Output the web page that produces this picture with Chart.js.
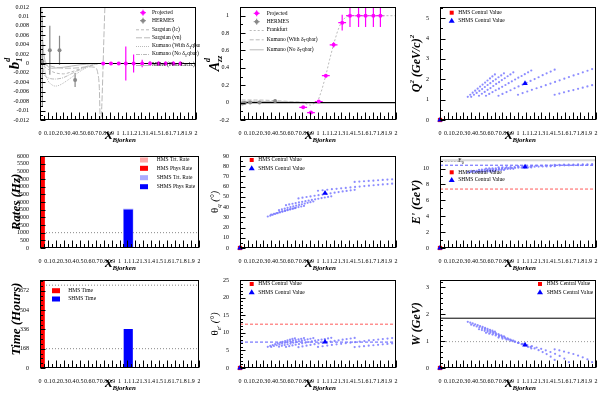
<!DOCTYPE html>
<html>
<head>
<meta charset="utf-8">
<title>Deuteron tensor kinematics</title>
<script src="https://cdn.jsdelivr.net/npm/chart.js@4.4.1/dist/chart.umd.min.js"></script>
<style>
  html, body { margin: 0; padding: 0; background: #fff; }
  #page { position: relative; width: 600px; height: 400px; overflow: hidden; background: #fff; }
  canvas { position: absolute; }
</style>
</head>
<body>
<div id="page">
  <canvas id="pB1" width="200" height="146" style="left:0px;top:0px"></canvas>
  <canvas id="pAzz" width="200" height="146" style="left:200px;top:0px"></canvas>
  <canvas id="pQ2" width="200" height="146" style="left:400px;top:0px"></canvas>
  <canvas id="pRate" width="200" height="126" style="left:0px;top:146px"></canvas>
  <canvas id="pThq" width="200" height="126" style="left:200px;top:146px"></canvas>
  <canvas id="pEp" width="200" height="126" style="left:400px;top:146px"></canvas>
  <canvas id="pTime" width="200" height="128" style="left:0px;top:272px"></canvas>
  <canvas id="pThe" width="200" height="128" style="left:200px;top:272px"></canvas>
  <canvas id="pW" width="200" height="128" style="left:400px;top:272px"></canvas>
</div>
<script>
// ---------- shared x axis ----------
const xTickVals = [0, 0.1, 0.2, 0.3, 0.4, 0.5, 0.6, 0.7, 0.8, 0.9, 1, 1.1, 1.2, 1.3, 1.4, 1.5, 1.6, 1.7, 1.8, 1.9, 2];
const xTickLabels = ['0', '0.1', '0.2', '0.3', '0.4', '0.5', '0.6', '0.7', '0.8', '0.9', '1', '1.1', '1.2', '1.3', '1.4', '1.5', '1.6', '1.7', '1.8', '1.9', '2'];
const xMinorVals = [0.05, 0.15, 0.25, 0.35, 0.45, 0.55, 0.65, 0.75, 0.85, 0.95, 1.05, 1.15, 1.25, 1.35, 1.45, 1.55, 1.65, 1.75, 1.85, 1.95];

// ---------- b1 panel ----------
const b1TickVals = [-0.012, -0.01, -0.008, -0.006, -0.004, -0.002, 0, 0.002, 0.004, 0.006, 0.008, 0.01, 0.012];
const b1TickLabels = ['-0.012', '-0.01', '-0.008', '-0.006', '-0.004', '-0.002', '0', '0.002', '0.004', '0.006', '0.008', '0.01', '0.012'];
const b1Minor = [-0.011, -0.009, -0.007, -0.005, -0.003, -0.001, 0.001, 0.003, 0.005, 0.007, 0.009, 0.011];
const projX = [0.81, 0.91, 1.01, 1.10, 1.20, 1.31, 1.41, 1.52, 1.61, 1.71, 1.80];
const projXErr = [0.05, 0.05, 0.05, 0.05, 0.05, 0.05, 0.05, 0.05, 0.05, 0.05, 0.05];
const b1ProjY = [0, 0, 0, 0, 0, 0, 0, 0, 0, 0, 0];
const b1ProjErr = [0.0003, 0.0003, 0.0003, 0.0036, 0.0019, 0.0008, 0.0005, 0.0004, 0.0004, 0.0004, 0.0004];
const hermesX = [0.03, 0.126, 0.25, 0.45];
const hermesB1 = [0.0005, 0.0028, 0.0028, -0.0035];
const hermesB1Err = [0.0095, 0.0052, 0.0031, 0.0015];
const sargLcX = [0.05, 0.1, 0.2, 0.3, 0.4, 0.5, 0.6, 0.7, 0.75];
const sargLcY = [-0.0005, -0.0012, -0.002, -0.0022, -0.0018, -0.0012, -0.0006, -0.0002, 0];
const sargVnX = [0.02, 0.1, 0.2, 0.3, 0.4, 0.5, 0.6, 0.7, 0.74, 0.76, 0.775, 0.835, 0.9];
const sargVnY = [0, -0.0004, -0.0008, -0.001, -0.001, -0.0009, -0.0007, -0.0008, -0.002, -0.005, -0.013, 0.013, 0.03];
const kumWithX = [0.02, 0.04, 0.06, 0.1, 0.15, 0.2, 0.25, 0.35, 0.45, 0.55, 0.65, 0.75];
const kumWithY = [0.014, 0.004, -0.001, -0.0035, -0.0045, -0.0048, -0.0046, -0.0036, -0.0024, -0.0013, -0.0005, 0];
const kumNoX = [0.02, 0.05, 0.1, 0.2, 0.3, 0.4, 0.5, 0.6, 0.7, 0.75];
const kumNoY = [0.002, -0.002, -0.003, -0.0033, -0.003, -0.0022, -0.0014, -0.0007, -0.0002, 0];
const millerX = [0.02, 0.03, 0.05, 0.08, 0.15, 0.3, 0.5, 0.7];
const millerY = [0.012, 0.006, 0.002, 0, -0.001, -0.0008, -0.0003, 0];

// ---------- Azz panel ----------
const azzTickVals = [-0.2, 0, 0.2, 0.4, 0.6, 0.8, 1];
const azzTickLabels = ['-0.2', '0', '0.2', '0.4', '0.6', '0.8', '1'];
const azzMinor = [-0.1, 0.1, 0.3, 0.5, 0.7, 0.9];
const azzProjY = [-0.054, -0.115, 0.012, 0.31, 0.665, 0.92, 1.0, 1.0, 1.0, 1.0, 1.0];
const azzProjErr = [0.015, 0.015, 0.015, 0.02, 0.03, 0.09, 0.13, 0.13, 0.13, 0.13, 0.13];
const hermesAzzX = [0.03, 0.06, 0.13, 0.25, 0.45];
const hermesAzz = [-0.01, -0.005, 0.0, 0.0, 0.02];
const hermesAzzErr = [0.01, 0.01, 0.01, 0.01, 0.015];
const frankX = [0.02, 0.3, 0.6, 0.8, 0.9, 0.95, 1.0, 1.05, 1.1, 1.15, 1.2, 1.25, 1.3, 1.35, 1.4, 1.6, 1.8, 2.0];
const frankY = [0.01, 0.01, 0.005, 0, -0.03, -0.01, 0.02, 0.15, 0.31, 0.5, 0.67, 0.82, 0.93, 0.98, 1.0, 1.0, 1.0, 1.0];
const kumAzzX = [0.02, 0.2, 0.4, 0.6, 0.8, 0.9];
const kumAzzWith = [0.03, 0.03, 0.025, 0.015, 0.005, 0];
const kumAzzNo = [0.015, 0.015, 0.012, 0.008, 0.003, 0];

// ---------- kinematic settings (one row per SHMS setting) ----------
const xBj = [
  [0.356, 0.388, 0.419, 0.451, 0.483, 0.514, 0.546, 0.578, 0.609, 0.641, 0.672, 0.704],
  [0.400, 0.435, 0.470, 0.505, 0.540, 0.575, 0.610, 0.645, 0.680, 0.715, 0.750, 0.785, 0.820],
  [0.500, 0.537, 0.573, 0.610, 0.647, 0.683, 0.720, 0.757, 0.793, 0.830, 0.867, 0.903, 0.940],
  [0.590, 0.631, 0.673, 0.714, 0.756, 0.797, 0.839, 0.880, 0.921, 0.963, 1.004, 1.046, 1.087, 1.129, 1.170],
  [0.750, 0.801, 0.853, 0.904, 0.956, 1.007, 1.059, 1.110, 1.161, 1.213, 1.264, 1.316, 1.367, 1.419, 1.470],
  [1.000, 1.059, 1.119, 1.178, 1.238, 1.297, 1.356, 1.416, 1.475, 1.534, 1.594, 1.653, 1.713, 1.772, 1.831, 1.891, 1.950],
  [1.470, 1.530, 1.590, 1.650, 1.710, 1.770, 1.830, 1.890, 1.950]
];
const q2 = [
  [1.14, 1.24, 1.34, 1.44, 1.54, 1.64, 1.74, 1.84, 1.94, 2.04, 2.14, 2.24],
  [1.14, 1.24, 1.33, 1.43, 1.52, 1.62, 1.72, 1.81, 1.91, 2.00, 2.10, 2.19, 2.29],
  [1.19, 1.29, 1.38, 1.48, 1.57, 1.67, 1.77, 1.86, 1.96, 2.05, 2.15, 2.24, 2.34],
  [1.19, 1.28, 1.37, 1.46, 1.54, 1.63, 1.72, 1.81, 1.90, 1.99, 2.08, 2.16, 2.25, 2.34, 2.43],
  [1.19, 1.28, 1.37, 1.46, 1.56, 1.65, 1.74, 1.83, 1.92, 2.01, 2.10, 2.20, 2.29, 2.38, 2.47],
  [1.24, 1.32, 1.40, 1.48, 1.56, 1.63, 1.71, 1.79, 1.87, 1.95, 2.03, 2.11, 2.19, 2.26, 2.34, 2.42, 2.50],
  [1.24, 1.30, 1.36, 1.42, 1.47, 1.53, 1.59, 1.65, 1.71]
];
const thetaQ = [
  [30.8, 31.6, 32.5, 33.3, 34.1, 34.9, 35.6, 36.3, 37.0, 37.7, 38.4, 39.0],
  [32.6, 33.4, 34.2, 35.0, 35.8, 36.5, 37.2, 37.9, 38.6, 39.3, 40.0, 40.6, 41.2],
  [37.0, 37.8, 38.6, 39.3, 40.0, 40.7, 41.4, 42.1, 42.8, 43.5, 44.2, 44.8, 45.5],
  [41.9, 42.6, 43.3, 43.9, 44.6, 45.2, 45.8, 46.4, 47.0, 47.6, 48.2, 48.8, 49.4, 50.0, 50.6],
  [48.5, 49.2, 49.9, 50.5, 51.1, 51.7, 52.3, 52.9, 53.5, 54.1, 54.7, 55.3, 55.8, 56.4, 56.9],
  [56.0, 56.5, 57.0, 57.5, 57.9, 58.4, 58.8, 59.3, 59.7, 60.1, 60.6, 61.0, 61.4, 61.8, 62.2, 62.5, 62.9],
  [64.6, 65.0, 65.3, 65.6, 65.9, 66.3, 66.6, 66.9, 67.2]
];
const ePrime = [
  [9.55, 9.56, 9.57, 9.58, 9.59, 9.60, 9.61, 9.62, 9.63, 9.64, 9.65, 9.66],
  [9.70, 9.71, 9.72, 9.73, 9.74, 9.75, 9.76, 9.77, 9.78, 9.79, 9.80, 9.81, 9.82],
  [9.85, 9.86, 9.87, 9.88, 9.89, 9.90, 9.91, 9.92, 9.93, 9.94, 9.95, 9.96, 9.97],
  [10.00, 10.01, 10.02, 10.03, 10.04, 10.05, 10.06, 10.07, 10.08, 10.09, 10.10, 10.11, 10.12, 10.13, 10.14],
  [10.15, 10.16, 10.17, 10.18, 10.19, 10.20, 10.21, 10.22, 10.23, 10.24, 10.25, 10.26, 10.27, 10.28, 10.29],
  [10.30, 10.31, 10.32, 10.33, 10.34, 10.35, 10.36, 10.37, 10.38, 10.39, 10.40, 10.41, 10.42, 10.43, 10.44, 10.45, 10.46],
  [10.47, 10.48, 10.49, 10.50, 10.51, 10.52, 10.53, 10.54, 10.55]
];
const thetaE = [
  [6.02, 6.28, 6.53, 6.77, 7.00, 7.22, 7.44, 7.65, 7.85, 8.05, 8.25, 8.44],
  [5.99, 6.25, 6.47, 6.71, 6.92, 7.14, 7.36, 7.55, 7.75, 7.93, 8.13, 8.30, 8.49],
  [6.05, 6.30, 6.52, 6.75, 6.95, 7.17, 7.38, 7.57, 7.77, 7.95, 8.14, 8.31, 8.49],
  [5.99, 6.21, 6.42, 6.63, 6.81, 7.01, 7.20, 7.38, 7.57, 7.75, 7.92, 8.07, 8.24, 8.40, 8.56],
  [5.92, 6.14, 6.35, 6.56, 6.78, 6.98, 7.16, 7.35, 7.53, 7.70, 7.87, 8.05, 8.22, 8.38, 8.54],
  [5.99, 6.18, 6.36, 6.55, 6.72, 6.87, 7.04, 7.20, 7.35, 7.51, 7.67, 7.82, 7.96, 8.09, 8.23, 8.37, 8.51],
  [5.94, 6.08, 6.21, 6.35, 6.46, 6.59, 6.72, 6.85, 6.97]
];
const wMass = [
  [1.715, 1.684, 1.655, 1.623, 1.590, 1.559, 1.525, 1.491, 1.458, 1.422, 1.387, 1.349],
  [1.609, 1.578, 1.543, 1.511, 1.475, 1.441, 1.407, 1.370, 1.334, 1.295, 1.257, 1.217, 1.176],
  [1.439, 1.411, 1.381, 1.351, 1.318, 1.286, 1.252, 1.215, 1.180, 1.140, 1.100, 1.058, 1.015],
  [1.307, 1.276, 1.243, 1.210, 1.173, 1.138, 1.100, 1.062, 1.021, 0.978, 0.934, 0.886, 0.837, 0.783, 0.726],
  [1.130, 1.095, 1.056, 1.017, 0.976, 0.932, 0.885, 0.836, 0.784, 0.726, 0.664, 0.593, 0.516, 0.421, 0.300],
  [0.938, 0.898, 0.855, 0.810, 0.762, 0.712, 0.657, 0.595, 0.527, 0.449, 0.351, 0.215, null, null, null, null, null],
  [0.695, 0.656, 0.612, 0.566, 0.520, 0.463, 0.398, 0.321, 0.217]
];

// central values: [origin marker, SHMS setting]
const hmsCentralX = [0];
const hmsCentralY = [0];
const shmsCentralX = [0, 1.09];
const shmsCentralQ2 = [0, 1.80];
const shmsCentralThq = [0, 53.7];
const shmsCentralEp = [0, 10.2];
const shmsCentralThe = [0, 7.4];
const shmsCentralW = [0, 0.86];

// reference lines
const beamEnergy = [11.04];
const shmsEpLine = [10.42];
const hmsEpLine = [7.42];
const shmsTheLine = [7.36];
const hmsTheLine = [12.45];
const wSolidLine = [1.85];
const wDotLine = [0.98];

// y axes of the kinematic pads
const q2TickVals = [0, 1, 2, 3, 4, 5];
const q2Minor = [0.5, 1.5, 2.5, 3.5, 4.5, 5.5];
const thqTickVals = [0, 10, 20, 30, 40, 50, 60, 70, 80, 90];
const thqMinor = [5, 15, 25, 35, 45, 55, 65, 75, 85];
const epTickVals = [0, 2, 4, 6, 8, 10];
const epMinor = [1, 3, 5, 7, 9, 11];
const theTickVals = [0, 5, 10, 15, 20, 25];
const theMinor = [1, 2, 3, 4, 6, 7, 8, 9, 11, 12, 13, 14, 16, 17, 18, 19, 21, 22, 23, 24];
const wTickVals = [0, 1, 2, 3];
const wMinor = [0.2, 0.4, 0.6, 0.8, 1.2, 1.4, 1.6, 1.8, 2.2, 2.4, 2.6, 2.8, 3.2];

// ---------- rates and beam time ----------
const rateTickVals = [0, 500, 1000, 1500, 2000, 2500, 3000, 3500, 4000, 4500, 5000, 5500, 6000];
const hmsBinX = [0.025];
const shmsBinX = [1.11];
const hmsTrtRate = [9000];
const hmsPhysRate = [9000];
const shmsTrtRate = [2540];
const shmsPhysRate = [2480];
const rateRefLine = [1000];
const timeTickVals = [0, 168, 336, 504, 672];
const timeMinor = [42, 84, 126, 210, 252, 294, 378, 420, 462, 546, 588, 630, 714, 756];
const hmsTime = [1000];
const shmsTime = [336];
const timeRefLines = [168, 720];

// ---------- drawing helpers ----------
const SERIF = '"Liberation Serif", "DejaVu Serif", serif';
const BI = 'italic bold';

function setFont(ctx, p) { ctx.font = (p.f || BI) + ' ' + p.s + 'px ' + SERIF; }

// draw a run of text pieces (sub/superscripts) starting at x,y
function drawParts(ctx, parts, x, y, align) {
  let w = 0, prev = 0;
  parts.forEach(p => {
    setFont(ctx, p);
    const pw = ctx.measureText(p.t).width;
    if (p.stack) { w += Math.max(0, pw - prev); prev = Math.max(pw, prev); }
    else { w += pw; prev = pw; }
  });
  let cx = align === 'center' ? x - w / 2 : x;
  let start = cx;
  parts.forEach(p => {
    setFont(ctx, p);
    const pw = ctx.measureText(p.t).width;
    if (p.stack) { ctx.fillText(p.t, start, y + (p.dy || 0)); cx = Math.max(cx, start + pw); }
    else { start = cx; ctx.fillText(p.t, cx, y + (p.dy || 0)); cx += pw; }
  });
}

const xTitle = [{ t: 'x', s: 15 }, { t: 'Bjorken', s: 7, dy: 3.5 }];

const rootStyle = {
  id: 'rootStyle',
  beforeDatasetsDraw(chart) {
    const { ctx, chartArea: a, scales } = chart;
    const x = scales.x, y = scales.y;
    ctx.save();
    ctx.beginPath();
    ctx.rect(a.left, a.top, a.right - a.left, a.bottom - a.top);
    ctx.clip();
    chart.data.datasets.forEach(ds => {
      if (!ds.errY && !ds.errX) return;
      ctx.strokeStyle = ds.errColor;
      ctx.lineWidth = 1.2;
      ds.data.forEach((p, i) => {
        const px = x.getPixelForValue(p.x), py = y.getPixelForValue(p.y);
        ctx.beginPath();
        if (ds.errY) {
          ctx.moveTo(px, y.getPixelForValue(p.y - ds.errY[i]));
          ctx.lineTo(px, y.getPixelForValue(p.y + ds.errY[i]));
        }
        if (ds.errX) {
          ctx.moveTo(x.getPixelForValue(p.x - ds.errX[i]), py);
          ctx.lineTo(x.getPixelForValue(p.x + ds.errX[i]), py);
        }
        ctx.stroke();
      });
    });
    ctx.restore();
  },
  afterDraw(chart, args, o) {
    const { ctx, chartArea: a, scales } = chart;
    const x = scales.x, y = scales.y;
    ctx.save();
    const L = Math.round(a.left) + 0.5, R = Math.round(a.right) - 0.5;
    const T = Math.round(a.top) + 0.5, B = Math.round(a.bottom) - 0.5;
    ctx.strokeStyle = '#000';
    ctx.lineWidth = 1;
    ctx.strokeRect(L, T, R - L, B - T);
    ctx.beginPath();
    xTickVals.forEach(v => {
      const px = Math.round(x.getPixelForValue(v)) + 0.5;
      ctx.moveTo(px, B); ctx.lineTo(px, B - 7);
    });
    xMinorVals.forEach(v => {
      const px = Math.round(x.getPixelForValue(v)) + 0.5;
      ctx.moveTo(px, B); ctx.lineTo(px, B - 3.5);
    });
    o.yMajor.forEach(v => {
      const py = Math.round(y.getPixelForValue(v)) + 0.5;
      ctx.moveTo(L, py); ctx.lineTo(L + 5, py);
    });
    (o.yMinor || []).forEach(v => {
      if (v > y.max) return;
      const py = Math.round(y.getPixelForValue(v)) + 0.5;
      ctx.moveTo(L, py); ctx.lineTo(L + 2.5, py);
    });
    ctx.stroke();

    ctx.fillStyle = '#000';
    ctx.textAlign = 'left';
    ctx.textBaseline = 'alphabetic';
    drawParts(ctx, xTitle, 105, a.bottom + 18.5, 'left');

    ctx.save();
    ctx.translate(o.yTitleX || 19, (a.top + a.bottom) / 2 + (o.yTitleShift || 0));
    ctx.rotate(-Math.PI / 2);
    drawParts(ctx, o.yTitle, 0, 0, 'center');
    ctx.restore();

    (o.legend || []).forEach(it => drawLegendItem(ctx, it, o.legendAt));
    ctx.restore();
  }
};

function drawLegendItem(ctx, it, at) {
  const mx = at[0], tx = at[1], yy = it.y;
  ctx.save();
  if (it.kind === 'sq') {
    ctx.fillStyle = it.color; ctx.fillRect(mx - 2, yy - 2, 4, 4);
  } else if (it.kind === 'tri') {
    ctx.fillStyle = it.color;
    ctx.beginPath(); ctx.moveTo(mx, yy - 3); ctx.lineTo(mx + 3, yy + 2); ctx.lineTo(mx - 3, yy + 2); ctx.closePath(); ctx.fill();
  } else if (it.kind === 'box') {
    ctx.fillStyle = it.color; ctx.fillRect(mx - 4, yy - 2.5, 8, 5);
  } else if (it.kind === 'line') {
    ctx.strokeStyle = it.color; ctx.lineWidth = it.width || 1; ctx.setLineDash(it.dash || []);
    ctx.beginPath(); ctx.moveTo(mx - 7, yy + 0.5); ctx.lineTo(mx + 7, yy + 0.5); ctx.stroke();
  } else if (it.kind === 'marker') {
    ctx.strokeStyle = it.color; ctx.fillStyle = it.color; ctx.lineWidth = 1;
    ctx.beginPath(); ctx.moveTo(mx - 3, yy); ctx.lineTo(mx + 3, yy); ctx.moveTo(mx, yy - 3); ctx.lineTo(mx, yy + 3); ctx.stroke();
    ctx.beginPath(); ctx.arc(mx, yy, 2, 0, Math.PI * 2); ctx.fill();
  }
  ctx.restore();
  ctx.fillStyle = '#000';
  ctx.textBaseline = 'middle';
  const parts = Array.isArray(it.text) ? it.text : [{ t: it.text }];
  drawParts(ctx, parts.map(p => Object.assign({ s: 5.5, f: 'normal' }, p)), tx, yy, 'left');
  ctx.textBaseline = 'alphabetic';
}

Chart.register(rootStyle);

const pts = (xs, ys) => xs.map((v, i) => ({ x: v, y: ys[i] }));
const hline = v => [{ x: 0, y: v }, { x: 2, y: v }];
function kinPoints(ys) {
  const out = [];
  xBj.forEach((row, i) => row.forEach((v, j) => { if (ys[i][j] != null) out.push({ x: v, y: ys[i][j] }); }));
  return out;
}

function padOptions(p) {
  return {
    responsive: false,
    animation: false,
    events: [],
    layout: { padding: { top: p.top, left: 0, right: 1, bottom: 0 } },
    plugins: { legend: { display: false }, tooltip: { enabled: false }, rootStyle: p.style },
    scales: {
      x: {
        type: 'linear', min: 0, max: 2, offset: false,
        afterFit: s => { s.height = p.xh; s.paddingLeft = 0; s.paddingRight = 0; },
        afterBuildTicks: s => { s.ticks = xTickVals.map(v => ({ value: v })); },
        ticks: {
          autoSkip: false, maxRotation: 0, minRotation: 0, padding: 2, color: '#000',
          font: { family: SERIF, size: 6 }, callback: (v, i) => xTickLabels[i]
        },
        grid: { display: false }, border: { display: false }
      },
      y: {
        type: 'linear', min: p.ymin, max: p.ymax,
        afterFit: s => { s.width = 40; s.paddingTop = 0; s.paddingBottom = 0; },
        afterBuildTicks: s => { s.ticks = p.yTicks.map(v => ({ value: v })); },
        ticks: {
          autoSkip: false, padding: 3, color: '#000',
          font: { family: SERIF, size: 6 }, callback: (v, i) => p.yLabels[i]
        },
        grid: { display: false }, border: { display: false }
      }
    }
  };
}

const KIN_COLOR = 'rgba(120,120,255,0.85)';
const THEORY = 'rgb(185,185,185)';

function centralSets(shmsY) {
  return [
    { data: pts(shmsCentralX, shmsY), pointStyle: 'triangle', radius: 3.2, backgroundColor: '#0000ff', borderColor: '#0000ff', borderWidth: 0, clip: false },
    { data: pts(hmsCentralX, hmsCentralY), pointStyle: 'rect', radius: 3, backgroundColor: '#ff0000', borderColor: '#ff0000', borderWidth: 0, clip: false }
  ];
}
function lineSet(v, color, dash, width) {
  return { type: 'line', data: hline(v), borderColor: color, borderDash: dash || [], borderWidth: width || 1, pointRadius: 0, showLine: true, fill: false };
}
function curveSet(xs, ys, dash) {
  return { type: 'line', data: pts(xs, ys), borderColor: THEORY, borderDash: dash || [], borderWidth: 1, pointRadius: 0, cubicInterpolationMode: 'monotone' };
}
const kinSet = ys => ({ data: kinPoints(ys), pointStyle: 'circle', radius: 1.1, backgroundColor: KIN_COLOR, borderWidth: 0 });
const centralLegend = (y1, y2) => [
  { kind: 'sq', color: '#ff0000', text: 'HMS Central Value', y: y1 },
  { kind: 'tri', color: '#0000ff', text: 'SHMS Central Value', y: y2 }
];
const row1 = { top: 7, xh: 26 }, row2 = { top: 10, xh: 24 }, row3 = { top: 8, xh: 32 };

// ---------- pad 1: b1 ----------
new Chart(document.getElementById('pB1'), {
  type: 'scatter',
  data: {
    datasets: [
      { data: pts(projX, b1ProjY), errY: b1ProjErr, errX: projXErr, errColor: '#ff00ff', pointStyle: 'circle', radius: 2, backgroundColor: '#ff00ff', borderWidth: 0 },
      { data: pts(hermesX, hermesB1), errY: hermesB1Err, errColor: '#888', pointStyle: 'circle', radius: 2, backgroundColor: '#888', borderWidth: 0 },
      { type: 'line', data: hline(0), borderColor: '#000', borderWidth: 1.2, pointRadius: 0 },
      curveSet(sargLcX, sargLcY, [3, 2]),
      curveSet(sargVnX, sargVnY, [6, 2]),
      curveSet(kumWithX, kumWithY, [1, 1]),
      curveSet(kumNoX, kumNoY, [4, 1, 1, 1]),
      curveSet(millerX, millerY, [])
    ]
  },
  options: padOptions(Object.assign({}, row1, {
    ymin: -0.012, ymax: 0.012, yTicks: b1TickVals, yLabels: b1TickLabels,
    style: {
      yMajor: b1TickVals, yMinor: b1Minor,
      yTitle: [{ t: 'b', s: 15 }, { t: '1', s: 8, dy: 3 }, { t: 'd', s: 8, dy: -9, stack: true }],
      legendAt: [143, 152],
      legend: [
        { kind: 'marker', color: '#ff00ff', text: 'Projected', y: 12.7 },
        { kind: 'marker', color: '#888', text: 'HERMES', y: 20.7 },
        { kind: 'line', color: THEORY, dash: [3, 2], text: 'Sargsian (lc)', y: 29.3 },
        { kind: 'line', color: THEORY, dash: [6, 2], text: 'Sargsian (vn)', y: 37.3 },
        { kind: 'line', color: THEORY, dash: [1, 1], text: [{ t: 'Kumano (With ' }, { t: 'δ' }, { t: 'T', s: 4, dy: 1.5 }, { t: 'qbar)' }], y: 46 },
        { kind: 'line', color: THEORY, dash: [4, 1, 1, 1], text: [{ t: 'Kumano (No ' }, { t: 'δ' }, { t: 'T', s: 4, dy: 1.5 }, { t: 'qbar)' }], y: 54 },
        { kind: 'line', color: THEORY, text: 'Miller (Pion Exch.)', y: 65 }
      ]
    }
  }))
});

// ---------- pad 2: Azz ----------
new Chart(document.getElementById('pAzz'), {
  type: 'scatter',
  data: {
    datasets: [
      { data: pts(projX, azzProjY), errY: azzProjErr, errX: projXErr, errColor: '#ff00ff', pointStyle: 'circle', radius: 2, backgroundColor: '#ff00ff', borderWidth: 0 },
      { data: pts(hermesAzzX, hermesAzz), errY: hermesAzzErr, errColor: '#888', pointStyle: 'circle', radius: 2, backgroundColor: '#888', borderWidth: 0 },
      { type: 'line', data: hline(0), borderColor: '#000', borderWidth: 1.2, pointRadius: 0 },
      { type: 'line', data: pts(frankX, frankY), borderColor: THEORY, borderDash: [2, 2], borderWidth: 1, pointRadius: 0 },
      curveSet(kumAzzX, kumAzzWith, [4, 2]),
      curveSet(kumAzzX, kumAzzNo, [])
    ]
  },
  options: padOptions(Object.assign({}, row1, {
    ymin: -0.2, ymax: 1.1, yTicks: azzTickVals, yLabels: azzTickLabels,
    style: {
      yMajor: azzTickVals, yMinor: azzMinor,
      yTitle: [{ t: 'A', s: 14 }, { t: 'zz', s: 8, dy: 3 }, { t: 'd', s: 8, dy: -9, stack: true }],
      legendAt: [56.7, 66.7],
      legend: [
        { kind: 'marker', color: '#ff00ff', text: 'Projected', y: 13.3 },
        { kind: 'marker', color: '#888', text: 'HERMES', y: 21.7 },
        { kind: 'line', color: THEORY, dash: [2, 2], text: 'Frankfurt', y: 30 },
        { kind: 'line', color: THEORY, dash: [4, 2], text: [{ t: 'Kumano (With ' }, { t: 'δ' }, { t: 'T', s: 4, dy: 1.5 }, { t: 'qbar)' }], y: 39.3 },
        { kind: 'line', color: THEORY, text: [{ t: 'Kumano (No ' }, { t: 'δ' }, { t: 'T', s: 4, dy: 1.5 }, { t: 'qbar)' }], y: 49.3 }
      ]
    }
  }))
});

// ---------- pad 3: Q2 ----------
new Chart(document.getElementById('pQ2'), {
  type: 'scatter',
  data: { datasets: centralSets(shmsCentralQ2).concat([kinSet(q2)]) },
  options: padOptions(Object.assign({}, row1, {
    ymin: 0, ymax: 5.55, yTicks: q2TickVals, yLabels: q2TickVals.map(String),
    style: {
      yMajor: q2TickVals, yMinor: q2Minor, yTitleX: 20,
      yTitle: [{ t: 'Q', s: 12 }, { t: '2', s: 7, dy: -6 }, { t: ' (GeV/c)', s: 12 }, { t: '2', s: 7, dy: -6 }],
      legendAt: [51.7, 58.3], legend: centralLegend(12.7, 20.7)
    }
  }))
});

// ---------- pad 4: rates ----------
new Chart(document.getElementById('pRate'), {
  type: 'bar',
  data: {
    datasets: [
      { data: pts(hmsBinX, hmsPhysRate), backgroundColor: '#ff0000', barThickness: 5, grouped: false },
      { data: pts(shmsBinX, shmsPhysRate), backgroundColor: '#0000ff', barThickness: 8.5, grouped: false },
      { data: pts(hmsBinX, hmsTrtRate), backgroundColor: '#ffaaaa', barThickness: 5.5, grouped: false },
      { data: pts(shmsBinX, shmsTrtRate), backgroundColor: '#aaaaff', barThickness: 9.5, grouped: false },
      { type: 'line', data: hline(rateRefLine[0]), borderColor: '#888', borderDash: [1, 2], borderWidth: 1, pointRadius: 0 }
    ]
  },
  options: padOptions(Object.assign({}, row2, {
    ymin: 0, ymax: 6000, yTicks: rateTickVals, yLabels: rateTickVals.map(String),
    style: {
      yMajor: rateTickVals, yTitleX: 20,
      yTitle: [{ t: 'Rates (Hz)', s: 13 }],
      legendAt: [144, 156.7],
      legend: [
        { kind: 'box', color: '#ffaaaa', text: 'HMS Trt. Rate', y: 14 },
        { kind: 'box', color: '#ff0000', text: 'HMS Phys Rate', y: 22.3 },
        { kind: 'box', color: '#aaaaff', text: 'SHMS Trt. Rate', y: 31.7 },
        { kind: 'box', color: '#0000ff', text: 'SHMS Phys Rate', y: 40.7 }
      ]
    }
  }))
});

// ---------- pad 5: theta_q ----------
new Chart(document.getElementById('pThq'), {
  type: 'scatter',
  data: { datasets: centralSets(shmsCentralThq).concat([kinSet(thetaQ)]) },
  options: padOptions(Object.assign({}, row2, {
    ymin: 0, ymax: 90, yTicks: thqTickVals, yLabels: thqTickVals.map(String),
    style: {
      yMajor: thqTickVals, yMinor: thqMinor, yTitleX: 18,
      yTitle: [{ t: 'θ', s: 11, f: 'normal' }, { t: 'q', s: 7, dy: 3, f: 'italic' }, { t: ' (°)', s: 10, f: 'italic' }],
      legendAt: [51.7, 58.3], legend: centralLegend(14, 22.3)
    }
  }))
});

// ---------- pad 6: E' ----------
new Chart(document.getElementById('pEp'), {
  type: 'scatter',
  data: {
    datasets: centralSets(shmsCentralEp).concat([
      kinSet(ePrime),
      lineSet(shmsEpLine[0], 'rgb(90,90,255)', [3, 2]),
      lineSet(hmsEpLine[0], 'rgb(255,90,90)', [3, 2]),
      lineSet(beamEnergy[0], 'rgb(215,215,215)', [], 2)
    ])
  },
  options: padOptions(Object.assign({}, row2, {
    ymin: 0, ymax: 11.58, yTicks: epTickVals, yLabels: epTickVals.map(String),
    style: {
      yMajor: epTickVals, yMinor: epMinor, yTitleX: 20,
      yTitle: [{ t: "E' (GeV)", s: 12 }],
      legendAt: [51.7, 58.3],
      legend: [
        { kind: 'line', color: 'rgb(190,190,190)', dash: [2, 1], text: [{ t: 'E' }, { t: '0', s: 4, dy: 1.5 }], y: 15 },
        { kind: 'sq', color: '#ff0000', text: 'HMS Central Value', y: 26.3 },
        { kind: 'tri', color: '#0000ff', text: 'SHMS Central Value', y: 34 }
      ]
    }
  }))
});

// ---------- pad 7: beam time ----------
new Chart(document.getElementById('pTime'), {
  type: 'bar',
  data: {
    datasets: [
      { data: pts(hmsBinX, hmsTime), backgroundColor: '#ff0000', barThickness: 5, grouped: false },
      { data: pts(shmsBinX, shmsTime), backgroundColor: '#0000ff', barThickness: 8.5, grouped: false },
      { type: 'line', data: hline(timeRefLines[0]), borderColor: '#888', borderDash: [1, 2], borderWidth: 1, pointRadius: 0 },
      { type: 'line', data: hline(timeRefLines[1]), borderColor: '#888', borderDash: [1, 2], borderWidth: 1, pointRadius: 0 }
    ]
  },
  options: padOptions(Object.assign({}, row3, {
    ymin: 0, ymax: 765, yTicks: timeTickVals, yLabels: timeTickVals.map(String),
    style: {
      yMajor: timeTickVals, yMinor: timeMinor, yTitleX: 20, yTitleShift: -5,
      yTitle: [{ t: 'Time (Hours)', s: 13 }],
      legendAt: [56, 68.3],
      legend: [
        { kind: 'box', color: '#ff0000', text: 'HMS Time', y: 18.7 },
        { kind: 'box', color: '#0000ff', text: 'SHMS Time', y: 27 }
      ]
    }
  }))
});

// ---------- pad 8: theta_e' ----------
new Chart(document.getElementById('pThe'), {
  type: 'scatter',
  data: {
    datasets: centralSets(shmsCentralThe).concat([
      kinSet(thetaE),
      lineSet(shmsTheLine[0], 'rgb(90,90,255)', [3, 2]),
      lineSet(hmsTheLine[0], 'rgb(255,90,90)', [3, 2])
    ])
  },
  options: padOptions(Object.assign({}, row3, {
    ymin: 0, ymax: 25, yTicks: theTickVals, yLabels: theTickVals.map(String),
    style: {
      yMajor: theTickVals, yMinor: theMinor, yTitleX: 18,
      yTitle: [{ t: 'θ', s: 11, f: 'normal' }, { t: "e'", s: 7, dy: 3, f: 'italic' }, { t: ' (°)', s: 10, f: 'italic' }],
      legendAt: [51.7, 58.3], legend: centralLegend(12, 20.3)
    }
  }))
});

// ---------- pad 9: W ----------
new Chart(document.getElementById('pW'), {
  type: 'scatter',
  data: {
    datasets: centralSets(shmsCentralW).concat([
      kinSet(wMass),
      lineSet(wSolidLine[0], '#000', []),
      lineSet(wDotLine[0], '#999', [1, 2])
    ])
  },
  options: padOptions(Object.assign({}, row3, {
    ymin: 0, ymax: 3.27, yTicks: wTickVals, yLabels: wTickVals.map(String),
    style: {
      yMajor: wTickVals, yMinor: wMinor, yTitleX: 20,
      yTitle: [{ t: 'W (GeV)', s: 12 }],
      legendAt: [140, 146.7], legend: centralLegend(12, 20.3)
    }
  }))
});
</script>
</body>
</html>
